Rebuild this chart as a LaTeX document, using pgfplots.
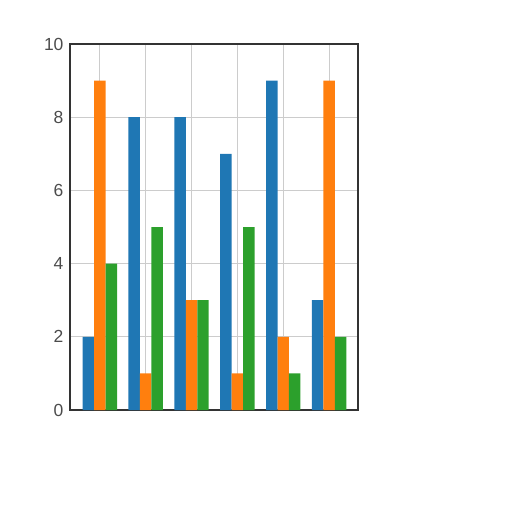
\documentclass[border=0pt]{standalone}
\usepackage{fontspec}
\setmainfont{Liberation Sans}
\usepackage{pgfplots}
\pgfplotsset{compat=1.18}
\definecolor{tabblue}{HTML}{1F77B4}
\definecolor{taborange}{HTML}{FF7F0E}
\definecolor{tabgreen}{HTML}{2CA02C}
\begin{document}
\begin{tikzpicture}[x=1pt,y=1pt]
\begin{axis}[
    at={(0,0)}, anchor=south west,
    scale only axis,
    width=288pt, height=366pt,
    xmin=-0.65, xmax=5.63,
    ymin=0, ymax=10,
    xtick={0,1,2,3,4,5},
    xticklabels={},
    ytick={0,2,4,6,8,10},
    major tick length=0pt,
    grid=major,
    major grid style={draw=black!20, line width=0.8pt},
    axis line style={draw=black!80, line width=1.8pt},
    tick label style={font=\fontsize{17.5}{17.5}\selectfont, text=black!70},
    /pgf/number format/assume math mode=true,
    yticklabel style={xshift=-3pt},
    ybar=0pt,
    bar width=0.25,
]
\addplot[fill=tabblue, draw=none, bar shift=-0.25] coordinates {(0,2) (1,8) (2,8) (3,7) (4,9) (5,3)};
\addplot[fill=taborange, draw=none, bar shift=0] coordinates {(0,9) (1,1) (2,3) (3,1) (4,2) (5,9)};
\addplot[fill=tabgreen, draw=none, bar shift=0.25] coordinates {(0,4) (1,5) (2,3) (3,5) (4,1) (5,2)};
\end{axis}
\pgfresetboundingbox
\path (-70pt,-102pt) rectangle (442pt,410pt);
\end{tikzpicture}
\end{document}
